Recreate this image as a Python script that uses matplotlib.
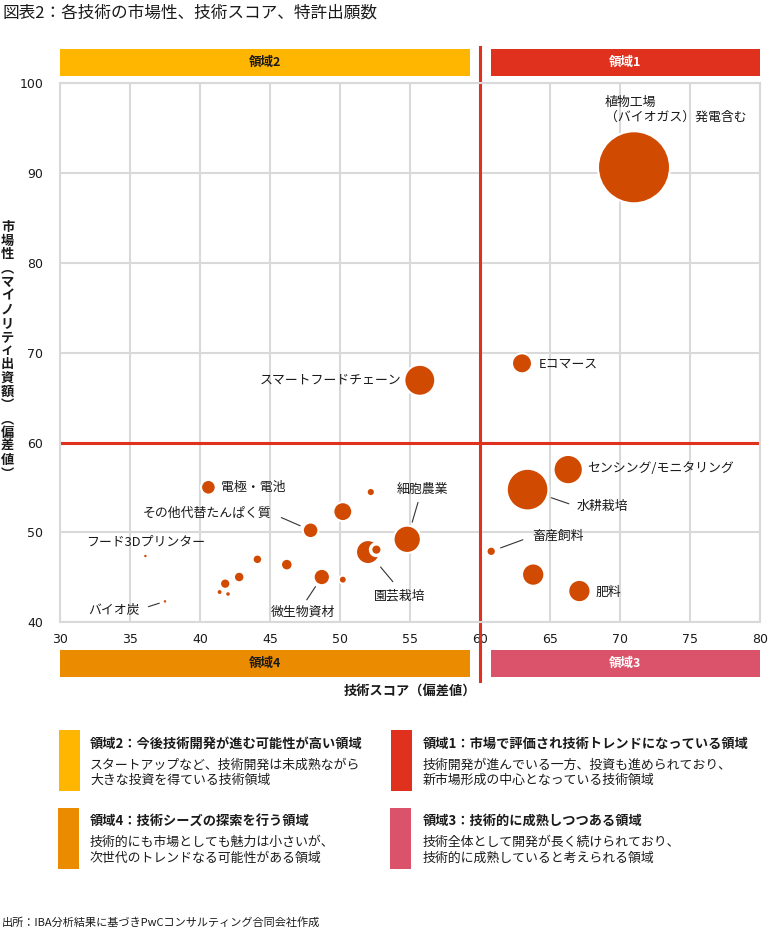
import matplotlib
matplotlib.use("Agg")
import matplotlib.pyplot as plt
import matplotlib.transforms as mtransforms
from matplotlib.patches import Rectangle

plt.rcParams['font.family'] = ['Noto Sans CJK JP', 'DejaVu Sans']

W, H = 769, 930

# 技術スコア / 市場性 / 特許出願数 (bubble area)
tech_score = [71.0, 63.0, 55.7, 66.3, 63.4, 60.8, 63.8, 67.1,
              40.6, 52.2, 50.2, 47.9, 54.8, 52.0, 52.6, 36.1,
              44.1, 46.2, 42.8, 48.7, 50.2, 41.8, 41.4, 42.0, 37.5]
market = [90.65, 68.83, 66.94, 57.0, 54.77, 47.9, 45.31, 43.48,
          55.03, 54.5, 52.32, 50.24, 49.24, 47.82, 48.09, 47.38,
          47.01, 46.42, 45.04, 45.04, 44.75, 44.3, 43.37, 43.15, 42.33]
patents = [1300, 100, 240, 215, 435, 22, 125, 125,
           54, 17, 90, 61, 187, 144, 34, 1.5,
           23, 34, 28, 67, 16, 27, 9, 8, 1.5]
names = ["植物工場\n（バイオガス）発電含む", "Eコマース", "スマートフードチェーン",
         "センシング/モニタリング", "水耕栽培", "畜産飼料", "", "肥料",
         "電極・電池", "", "", "その他代替たんぱく質", "細胞農業", "園芸栽培", "",
         "フード3Dプリンター", "", "", "", "微生物資材", "", "", "", "", "バイオ炭"]

x_ticks = [30, 35, 40, 45, 50, 55, 60, 65, 70, 75, 80]
y_ticks = [40, 50, 60, 70, 80, 90, 100]
threshold = 60

regions = ["領域2", "領域1", "領域4", "領域3"]
region_colors = ["#FFB600", "#E0301E", "#EB8C00", "#DB536A"]
region_titles = ["領域2：今後技術開発が進む可能性が高い領域",
                 "領域1：市場で評価され技術トレンドになっている領域",
                 "領域4：技術シーズの探索を行う領域",
                 "領域3：技術的に成熟しつつある領域"]
region_texts = ["スタートアップなど、技術開発は未成熟ながら\n大きな投資を得ている技術領域",
                "技術開発が進んでいる一方、投資も進められており、\n新市場形成の中心となっている技術領域",
                "技術的にも市場としても魅力は小さいが、\n次世代のトレンドなる可能性がある領域",
                "技術全体として開発が長く続けられており、\n技術的に成熟していると考えられる領域"]

BUBBLE = "#D04A02"
RED = "#E0301E"
GRID = "#D9D9D9"
TXT = "#1a1a1a"


def fx(x):
    return x / W


def fy(y):
    return 1 - y / H


fig = plt.figure(figsize=(W / 100, H / 100), dpi=100)
ax = fig.add_axes([fx(60), fy(622.3), fx(700), (622.3 - 83.3) / H])

ax.set_xlim(30, 80)
ax.set_ylim(40, 100)
ax.set_xticks(x_ticks)
ax.set_yticks(y_ticks)
ax.grid(True, color=GRID, lw=1.5)
ax.set_axisbelow(True)
for s in ax.spines.values():
    s.set_color(GRID)
    s.set_linewidth(1.5)
ax.tick_params(length=0, labelsize=9, labelcolor=TXT)
ax.tick_params(axis='y', pad=12)
ax.tick_params(axis='x', pad=8)
for lab in ax.get_xticklabels() + ax.get_yticklabels():
    lab.set_family('DejaVu Sans')

# threshold lines
ax.axhline(threshold, color=RED, lw=2.2, zorder=2)
blend = mtransforms.blended_transform_factory(ax.transData, ax.transAxes)
ax.plot([threshold, threshold], [-0.108, 1.067], color=RED, lw=2.2,
        transform=blend, clip_on=False, zorder=2)

# region bars above and below the plot
gap = 0.75
bars = [(30, threshold - gap, 1.013), (threshold + gap, 80, 1.013),
        (30, threshold - gap, -0.102), (threshold + gap, 80, -0.102)]
for (x0, x1, y0), name, col in zip(bars, regions, region_colors):
    ax.add_patch(Rectangle((x0, y0), x1 - x0, 0.05, transform=blend,
                           color=col, clip_on=False, lw=0))
    tc = "white" if name in ("領域1", "領域3") else TXT
    ax.text((x0 + x1) / 2, y0 + 0.025, name, transform=blend, ha='center',
            va='center', fontsize=9, fontweight='bold', color=tc)

# bubbles, largest first; tiny ones get no white rim so they stay visible
order = sorted(range(len(patents)), key=lambda i: -patents[i])
rims = [0 if patents[i] < 5 else (2.5 if i == 14 else 1.5) for i in order]
ax.scatter([tech_score[i] for i in order], [market[i] for i in order],
           s=[patents[i] * 2.07 for i in order], color=BUBBLE,
           edgecolor='white', linewidths=rims, zorder=3)

# label offsets in reference pixels: (dx, dy down, ha, relpos, shrinkA, shrinkB)
k = 0.72
label_spec = {
    0: (-29, -57.5, 'left', None, 0, 0),
    1: (17, 1, 'left', None, 0, 0),
    2: (-18, 0, 'right', None, 0, 0),
    3: (18.7, -1, 'left', None, 0, 0),
    4: (48.7, 16.7, 'left', (0, 0.5), 5, 25),
    5: (41, -15, 'left', (0, 0.5), 7, 10),
    7: (16, 1.3, 'left', None, 0, 0),
    8: (12.3, 0, 'left', None, 0, 0),
    11: (-39, -17, 'right', (1, 0.5), 7.6, 11.4),
    12: (15.3, -50, 'center', (0.45, 0), 4, 17.8),
    13: (31.7, 44.3, 'center', (0.5, 1), 7, 19.5),
    15: (0.5, -13.7, 'center', None, 0, 0),
    19: (-18.8, 35, 'center', (0.5, 1), 3.5, 11.5),
    24: (-25, 8, 'right', (1, 0.5), 6, 6),
}
for i, (dx, dy, ha, rel, sa, sb) in label_spec.items():
    arrow = None
    if rel is not None:
        arrow = dict(arrowstyle='-', color='#333333', lw=0.8, relpos=rel,
                     shrinkA=sa * k, shrinkB=sb * k)
    ax.annotate(names[i], xy=(tech_score[i], market[i]), xytext=(dx * k, -dy * k),
                textcoords='offset points', ha=ha, va='center', fontsize=9.3,
                color=TXT, linespacing=1.15, arrowprops=arrow, zorder=4)

# axis titles
fig.text(fx(410), fy(691), "技術スコア（偏差値）", ha='center', va='center',
         fontsize=9.5, fontweight='bold', color=TXT)
ylab = "市場性︵マイノリティ出資額︶︵偏差値︶"
for j, ch in enumerate(ylab):
    fig.text(fx(7.5), fy(227 + j * 13.7), ch, ha='center', va='center',
             fontsize=9.5, fontweight='bold', color=TXT)

# title and source
fig.text(fx(2), fy(13), "図表2：各技術の市場性、技術スコア、特許出願数", ha='left',
         va='center', fontsize=12, color=TXT)
fig.text(fx(2), fy(922), "出所：IBA分析結果に基づきPwCコンサルティング合同会社作成",
         ha='left', va='center', fontsize=8, color=TXT)

# explanation boxes
boxes = [(59, 730, 90), (391, 730, 423), (58, 807.5, 90), (390, 807.5, 423)]
for (bx, by, tx), col, head, body in zip(boxes, region_colors, region_titles, region_texts):
    fig.add_artist(Rectangle((fx(bx), fy(by + 61)), fx(20.5), 61 / H,
                             color=col, lw=0, transform=fig.transFigure))
    fig.text(fx(tx), fy(by + 13.5), head, ha='left', va='center', fontsize=9.5,
             fontweight='bold', color=TXT)
    fig.text(fx(tx), fy(by + 43), body, ha='left', va='center', fontsize=9.3,
             color=TXT, linespacing=1.25)

fig.savefig("out.png", dpi=100)
